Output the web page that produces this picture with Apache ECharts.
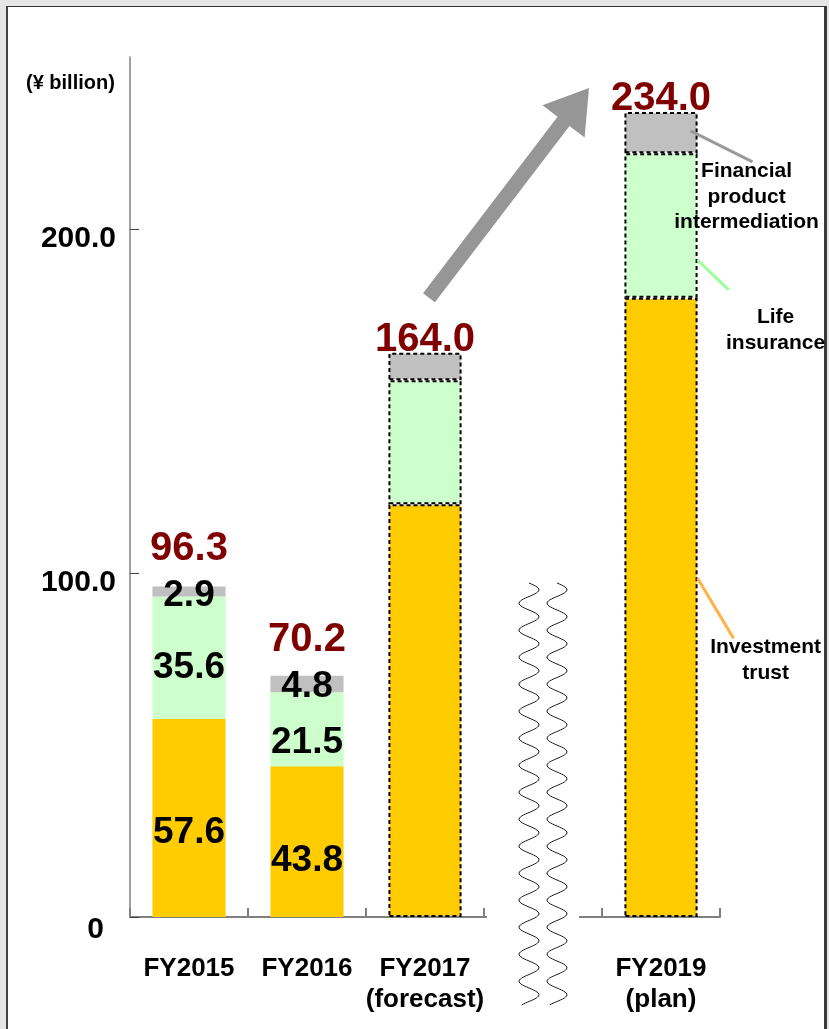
<!DOCTYPE html>
<html>
<head>
<meta charset="utf-8">
<script src="https://cdn.jsdelivr.net/npm/echarts@6/dist/echarts.min.js"></script>
<style>
  html, body { margin: 0; padding: 0; width: 829px; height: 1029px; overflow: hidden; background: #e6e6e6; }
  #panel { position: absolute; left: 6px; top: 6px; width: 821px; height: 1040px; background: #fff;
           border-top: 1.5px solid #333; border-left: 2px solid #444; border-right: 3px solid #3a3a3a; box-sizing: border-box; }
  #chart { position: absolute; left: 0; top: 0; width: 829px; height: 1029px; }
</style>
</head>
<body>
<div id="panel"></div>
<div id="chart"></div>
<script>
// Commission income by product (¥ billion); the blank slot marks the axis break before FY2019
const categories = ['FY2015', 'FY2016', 'FY2017\n(forecast)', '', 'FY2019\n(plan)'];
const investmentTrust = [57.6, 43.8, 120.0, null, 180.0];
const lifeInsurance = [35.6, 21.5, 36.0, null, 42.0];
const financialProduct = [2.9, 4.8, 8.0, null, 12.0];
const totals = [96.3, 70.2, 164.0, null, 234.0];
const yTicks = [0, 100, 200];
const projected = [false, false, true, false, true];

const FONT = "'Liberation Sans', Arial, Helvetica, sans-serif";

// label nudges (px) for the value labels inside the bars
const trustShift = [15, 19, 0, 0, 0];
const lifeShift = [10, 13, 0, 0, 0];
const fpShift = [4, 3, 0, 0, 0];
// vertical nudge of each total label above its bar
const totalLift = [-17, -16, 7, 0, 7];

function segment(values, shift) {
  return values.map((v, i) => v == null ? null : {
    value: v,
    itemStyle: projected[i]
      ? { borderColor: '#000', borderWidth: 2, borderType: [4, 3] }
      : { borderWidth: 0 },
    label: { show: !projected[i], offset: [0, shift[i]] }
  });
}

const segLabel = {
  position: 'inside',
  color: '#000',
  fontWeight: 'bold',
  fontSize: 37,
  fontFamily: FONT,
  formatter: p => p.value.toFixed(1)
};

const option = {
  animation: false,
  backgroundColor: 'transparent',
  textStyle: { fontFamily: FONT },
  title: {
    text: '(¥ billion)',
    left: 21, top: 68,
    textStyle: { fontSize: 20, fontWeight: 'bold', color: '#000', fontFamily: FONT }
  },
  grid: { left: 130, right: 109, top: 57, bottom: 112, containLabel: false },
  xAxis: {
    type: 'category',
    data: categories,
    axisLine: { lineStyle: { color: '#808080', width: 2 } },
    axisTick: { show: true, inside: true, length: 9, interval: 0, lineStyle: { color: '#808080', width: 2 } },
    axisLabel: {
      interval: 0, margin: 36, color: '#000', fontSize: 26, fontWeight: 'bold',
      lineHeight: 31, fontFamily: FONT
    }
  },
  yAxis: {
    type: 'value',
    min: 0, max: 250, interval: 50,
    splitLine: { show: false },
    axisLine: { show: true, lineStyle: { color: '#808080', width: 1.5 } },
    axisTick: { show: true, inside: true, length: 9, customValues: yTicks, lineStyle: { color: '#404040', width: 1 } },
    axisLabel: {
      customValues: yTicks,
      margin: 14, color: '#000', fontSize: 30, fontWeight: 'bold', fontFamily: FONT,
      padding: [20, 0, 0, 0],
      formatter: v => v === 0 ? '{z|0}' : v.toFixed(1),
      rich: { z: { fontSize: 30, fontWeight: 'bold', padding: [6, 12, 0, 0], color: '#000' } }
    }
  },
  series: [
    {
      name: 'Investment trust', type: 'bar', stack: 'total', barWidth: '62%',
      itemStyle: { color: '#ffcc00' },
      label: Object.assign({ show: true }, segLabel),
      data: segment(investmentTrust, trustShift)
    },
    {
      name: 'Life insurance', type: 'bar', stack: 'total', barWidth: '62%',
      itemStyle: { color: '#ccffcc' },
      label: Object.assign({ show: true }, segLabel),
      data: segment(lifeInsurance, lifeShift)
    },
    {
      name: 'Financial product intermediation', type: 'bar', stack: 'total', barWidth: '62%',
      itemStyle: { color: '#c0c0c0' },
      label: Object.assign({ show: true }, segLabel),
      data: segment(financialProduct, fpShift)
    },
    {
      name: 'Total', type: 'scatter', symbolSize: 0, z: 5,
      itemStyle: { opacity: 1 },
      label: {
        show: true, position: 'top', distance: 0, color: '#800000', opacity: 1, fontWeight: 'bold', fontSize: 40,
        fontFamily: FONT, formatter: p => p.value[1].toFixed(1)
      },
      data: totals.map((v, i) => v == null ? null : { value: [i, v], label: { offset: [0, totalLift[i]] } })
    }
  ]
};

const chart = echarts.init(document.getElementById('chart'), null, { renderer: 'canvas' });
chart.setOption(option);

// decorations placed from the axes' own scales
const px = (c, v) => chart.convertToPixel({ gridIndex: 0 }, [c, v]);
const catW = px(1, 0)[0] - px(0, 0)[0];
const barHalf = catW * 0.62 / 2;
const baseY = px(0, 0)[1];

const graphics = [];

// axis break: gap in the category axis line and two wavy lines
const breakX = px(3, 0)[0];
graphics.push({
  type: 'rect', z: 10,
  shape: { x: breakX - catW / 2 + 3, y: baseY - 4, width: catW - 26, height: 8 },
  style: { fill: '#fff' }
});
[-14, 14].forEach(dx => {
  const pts = [];
  const y0 = 583, y1 = 1005, period = 27, amp = 10;
  for (let y = y0; y <= y1; y += 1) {
    pts.push([breakX + dx + amp * Math.sin((y - y0) / period * 2 * Math.PI), y]);
  }
  graphics.push({
    type: 'polyline', z: 11,
    shape: { points: pts, smooth: 0 },
    style: { stroke: '#1a1a1a', lineWidth: 1, fill: null }
  });
});

// growth arrow from the FY2017 forecast toward the FY2019 plan
(function () {
  const tail = px(2, 180); tail[0] += 4;
  const tip = px(4, 241); tip[0] -= 72;
  const dx = tip[0] - tail[0], dy = tip[1] - tail[1];
  const len = Math.hypot(dx, dy);
  const ux = dx / len, uy = dy / len, nx = -uy, ny = ux;
  const headLen = 42, shaft = 7.5, wing = 26.5;
  const hx = tip[0] - ux * headLen, hy = tip[1] - uy * headLen;
  const pts = [
    [tail[0] + nx * shaft, tail[1] + ny * shaft],
    [hx + nx * shaft, hy + ny * shaft],
    [hx + nx * wing, hy + ny * wing],
    tip,
    [hx - nx * wing, hy - ny * wing],
    [hx - nx * shaft, hy - ny * shaft],
    [tail[0] - nx * shaft, tail[1] - ny * shaft]
  ];
  graphics.push({ type: 'polygon', z: 9, shape: { points: pts }, style: { fill: '#969696' } });
})();

// product names beside the FY2019 bar with leader lines
const barRight = px(4, 0)[0] + barHalf;
const notes = [
  { text: 'Financial\nproduct\nintermediation', color: '#999999', from: [-7, 228.5], to: [55, 219.5], at: [49, 197] },
  { text: 'Life\ninsurance', color: '#99ff99', from: [0, 191], to: [31, 182.3], at: [78, 330] },
  { text: 'Investment\ntrust', color: '#ffb347', from: [0, 98.5], to: [36, 81], at: [68, 660] }
];
notes.forEach(n => {
  const a = px(4, n.from[1]), b = px(4, n.to[1]);
  graphics.push({
    type: 'line', z: 12,
    shape: { x1: barRight + n.from[0], y1: a[1], x2: barRight + n.to[0], y2: b[1] },
    style: { stroke: n.color, lineWidth: 3 }
  });
  graphics.push({
    type: 'text', z: 12,
    x: barRight + n.at[0], y: n.at[1],
    style: {
      text: n.text, align: 'center', verticalAlign: 'middle',
      font: 'bold 21px ' + FONT, lineHeight: 25.5, fill: '#000'
    }
  });
});

chart.setOption({ graphic: graphics });
</script>
</body>
</html>
